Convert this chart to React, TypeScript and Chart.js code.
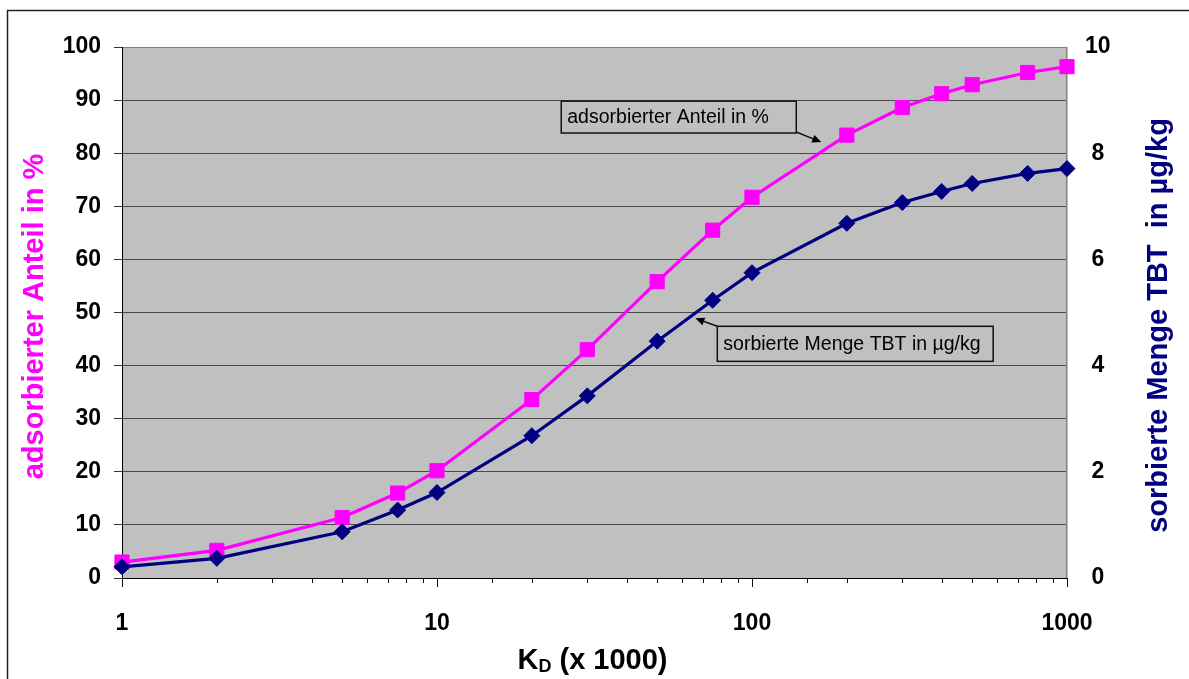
import React, { useEffect, useRef } from "react";
import { Chart, registerables } from "chart.js";

Chart.register(...registerables);

// ---- data ----
const kdValues = [1, 2, 5, 7.5, 10, 20, 30, 50, 75, 100, 200, 300, 400, 500, 750, 1000];
const adsorbedPercent = [3.0, 5.2, 11.4, 16.0, 20.2, 33.6, 43.0, 55.8, 65.5, 71.7, 83.4, 88.6, 91.2, 92.9, 95.2, 96.3];
const sorbedAmount = [0.21, 0.37, 0.87, 1.28, 1.61, 2.68, 3.43, 4.46, 5.23, 5.75, 6.68, 7.07, 7.28, 7.43, 7.62, 7.71];
const xLabelValues = [1, 10, 100, 1000];

const leftTitle = "adsorbierter Anteil in %";
const rightTitle = "sorbierte Menge TBT  in µg/kg";
const xTitleMain = "K";
const xTitleSub = "D";
const xTitleRest = " (x 1000)";
const noteAdsorbed = "adsorbierter Anteil in %";
const noteSorbed = "sorbierte Menge TBT in µg/kg";

const FONT = '"Liberation Sans", Arial, sans-serif';
const MAGENTA = "#FF00FF";
const NAVY = "#000080";

// annotation geometry in data space (x: K_D, y: left axis %)
const annotations = [
  { text: noteAdsorbed, x0: 24.8, x1: 138.2, yTop: 89.8, yBottom: 83.8, ax0: 138.2, ay0: 84.0, ax1: 165.9, ay1: 82.1 },
  { text: noteSorbed, x0: 77.6, x1: 583, yTop: 47.4, yBottom: 40.8, ax0: 77.6, ay0: 47.4, ax1: 66.1, ay1: 48.9 },
];

const decorPlugin = {
  id: "decor",
  beforeDraw(chart: any) {
    const { ctx, chartArea: a } = chart;
    ctx.save();
    ctx.fillStyle = "#ffffff";
    ctx.fillRect(0, 0, chart.width, chart.height);
    ctx.fillStyle = "#C0C0C0";
    ctx.fillRect(a.left, a.top, a.right - a.left, a.bottom - a.top);
    ctx.strokeStyle = "#222";
    ctx.lineWidth = 1.5;
    ctx.strokeRect(7.5, 10.5, chart.width + 20, chart.height + 20);
    ctx.restore();
  },
  beforeDatasetsDraw(chart: any) {
    const { ctx, chartArea: a } = chart;
    ctx.save();
    ctx.strokeStyle = "#808080";
    ctx.lineWidth = 1.5;
    ctx.beginPath();
    ctx.moveTo(Math.round(a.right) - 0.25, a.top);
    ctx.lineTo(Math.round(a.right) - 0.25, a.bottom);
    ctx.stroke();
    const xs = chart.scales.x;
    ctx.strokeStyle = "#111";
    ctx.lineWidth = 1;
    for (const t of xs.ticks) {
      const v = t.value;
      const major = Math.abs(Math.log10(v) - Math.round(Math.log10(v))) < 1e-9;
      const px = Math.round(xs.getPixelForValue(v)) + 0.5;
      ctx.beginPath();
      ctx.moveTo(px, a.bottom);
      ctx.lineTo(px, a.bottom + (major ? 9 : 5));
      ctx.stroke();
    }
    ctx.restore();
  },
  afterDatasetsDraw(chart: any) {
    const { ctx } = chart;
    const xs = chart.scales.x;
    const ys = chart.scales.y;
    ctx.save();
    for (const n of annotations) {
      const l = xs.getPixelForValue(n.x0);
      const r = xs.getPixelForValue(n.x1);
      const t = ys.getPixelForValue(n.yTop);
      const b = ys.getPixelForValue(n.yBottom);
      ctx.strokeStyle = "#111";
      ctx.lineWidth = 1.5;
      ctx.strokeRect(l, t, r - l, b - t);
      ctx.fillStyle = "#000";
      ctx.font = `19.5px ${FONT}`;
      ctx.textAlign = "left";
      ctx.textBaseline = "middle";
      ctx.fillText(n.text, l + 6, (t + b) / 2 + 1);
      const sx = xs.getPixelForValue(n.ax0);
      const sy = ys.getPixelForValue(n.ay0);
      const ex = xs.getPixelForValue(n.ax1);
      const ey = ys.getPixelForValue(n.ay1);
      const ang = Math.atan2(ey - sy, ex - sx);
      const hl = 9;
      const hw = 4;
      ctx.lineWidth = 1.5;
      ctx.beginPath();
      ctx.moveTo(sx, sy);
      ctx.lineTo(ex - Math.cos(ang) * hl * 0.8, ey - Math.sin(ang) * hl * 0.8);
      ctx.stroke();
      ctx.beginPath();
      ctx.moveTo(ex, ey);
      ctx.lineTo(ex - Math.cos(ang) * hl - Math.sin(ang) * hw, ey - Math.sin(ang) * hl + Math.cos(ang) * hw);
      ctx.lineTo(ex - Math.cos(ang) * hl + Math.sin(ang) * hw, ey - Math.sin(ang) * hl - Math.cos(ang) * hw);
      ctx.closePath();
      ctx.fill();
    }
    ctx.restore();
  },
  afterDraw(chart: any) {
    const { ctx, chartArea: a } = chart;
    ctx.save();
    ctx.font = `bold 29px ${FONT}`;
    ctx.textAlign = "center";
    ctx.textBaseline = "alphabetic";
    ctx.fillStyle = MAGENTA;
    ctx.save();
    ctx.translate(43, (a.top + a.bottom) / 2 + 4);
    ctx.rotate(-Math.PI / 2);
    ctx.fillText(leftTitle, 0, 0);
    ctx.restore();
    ctx.fillStyle = NAVY;
    ctx.save();
    ctx.translate(1167, (a.top + a.bottom) / 2 + 13);
    ctx.rotate(-Math.PI / 2);
    ctx.fillText(rightTitle, 0, 0);
    ctx.restore();
    ctx.fillStyle = "#000";
    ctx.textAlign = "left";
    const big = `bold 29px ${FONT}`;
    const small = `bold 18px ${FONT}`;
    ctx.font = big;
    const wK = ctx.measureText(xTitleMain).width;
    const wRest = ctx.measureText(xTitleRest).width;
    ctx.font = small;
    const wD = ctx.measureText(xTitleSub).width;
    const total = wK + wD + wRest;
    const cx = (a.left + a.right) / 2 - 2;
    let x = cx - total / 2;
    const baseY = 669;
    ctx.font = big;
    ctx.fillText(xTitleMain, x, baseY);
    x += wK;
    ctx.font = small;
    ctx.fillText(xTitleSub, x, baseY + 3);
    x += wD;
    ctx.font = big;
    ctx.fillText(xTitleRest, x, baseY);
    ctx.restore();
  },
};

export default function App() {
  const canvasRef = useRef<HTMLCanvasElement | null>(null);

  useEffect(() => {
    document.body.style.margin = "0";
    const canvas = canvasRef.current;
    if (!canvas) return;
    const chart = new Chart(canvas, {
      type: "line",
      data: {
        datasets: [
          {
            label: "sorbierte Menge TBT in µg/kg",
            data: kdValues.map((k, i) => ({ x: k, y: sorbedAmount[i] })),
            yAxisID: "y1",
            borderColor: NAVY,
            backgroundColor: NAVY,
            borderWidth: 3.2,
            pointStyle: "rectRot",
            pointRadius: 8,
            pointBorderWidth: 1,
            pointBackgroundColor: NAVY,
            pointBorderColor: NAVY,
            tension: 0,
            clip: false,
          },
          {
            label: "adsorbierter Anteil in %",
            data: kdValues.map((k, i) => ({ x: k, y: adsorbedPercent[i] })),
            yAxisID: "y",
            borderColor: MAGENTA,
            backgroundColor: MAGENTA,
            borderWidth: 3.2,
            pointStyle: "rect",
            pointRadius: 10,
            pointBorderWidth: 1,
            pointBackgroundColor: MAGENTA,
            pointBorderColor: MAGENTA,
            tension: 0,
            clip: false,
          },
        ],
      },
      options: {
        responsive: false,
        animation: false,
        events: [],
        layout: { padding: { top: 47, left: 0, right: 0, bottom: 0 } },
        plugins: {
          legend: { display: false },
          tooltip: { enabled: false },
          title: { display: false },
        },
        scales: {
          x: {
            type: "logarithmic",
            min: 1,
            max: 1000,
            grid: { display: false },
            border: { display: true, color: "#000", width: 1 },
            ticks: {
              autoSkip: false,
              maxRotation: 0,
              minRotation: 0,
              padding: 24,
              color: "#000",
              font: { family: FONT, size: 23, weight: "bold" },
              callback: (v: any) => (xLabelValues.includes(Number(v)) ? String(v) : ""),
            },
            afterFit: (s: any) => {
              s.height = 101;
            },
          },
          y: {
            type: "linear",
            position: "left",
            min: 0,
            max: 100,
            grid: {
              color: (c: any) => (c.tick && c.tick.value === 100 ? "#808080" : "#4a4a4a"),
              lineWidth: 1,
              drawTicks: true,
              tickLength: 8,
              tickColor: "#333",
            },
            border: { display: true, color: "#000", width: 1 },
            ticks: {
              stepSize: 10,
              padding: 13,
              color: "#000",
              font: { family: FONT, size: 23, weight: "bold" },
            },
            afterFit: (s: any) => {
              s.width = 122;
            },
          },
          y1: {
            type: "linear",
            position: "right",
            min: 0,
            max: 10,
            grid: { display: false },
            border: { display: false },
            ticks: {
              stepSize: 2,
              padding: 10,
              crossAlign: "center",
              color: "#000",
              font: { family: FONT, size: 23, weight: "bold" },
            },
            afterFit: (s: any) => {
              s.width = 122;
            },
          },
        },
      },
      plugins: [decorPlugin],
    } as any);
    return () => chart.destroy();
  }, []);

  return (
    <div style={{ width: 1189, height: 679 }}>
      <canvas ref={canvasRef} width={1189} height={679} style={{ display: "block" }} />
    </div>
  );
}
